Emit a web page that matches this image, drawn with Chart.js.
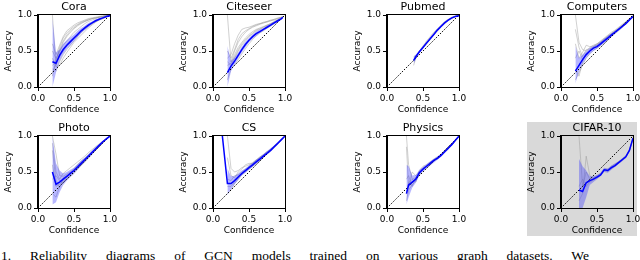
<!DOCTYPE html>
<html>
<head>
<meta charset="utf-8">
<script src="https://cdn.jsdelivr.net/npm/chart.js@4/dist/chart.umd.min.js"></script>
<style>
  body { margin: 0; width: 640px; height: 260px; overflow: hidden; background: #fff; position: relative; }
  canvas { position: absolute; }
  #cifarBg { position: absolute; left: 527px; top: 122px; width: 110px; height: 114px; background: #d9d9d9; }
  #caption {
    position: absolute; left: 1px; top: 249px; width: 588px;
    font-family: "Liberation Serif", serif; font-size: 13.5px; line-height: 14px;
    text-align: justify; text-align-last: justify; color: #000;
  }
</style>
</head>
<body>
<div id="cifarBg"></div>
<canvas id="cora" width="120" height="117" style="left:0px;top:0px"></canvas>
<canvas id="citeseer" width="120" height="117" style="left:175px;top:0px"></canvas>
<canvas id="pubmed" width="120" height="117" style="left:349px;top:0px"></canvas>
<canvas id="computers" width="120" height="117" style="left:523px;top:0px"></canvas>
<canvas id="photo" width="120" height="117" style="left:0px;top:121px"></canvas>
<canvas id="cs" width="120" height="117" style="left:175px;top:121px"></canvas>
<canvas id="physics" width="120" height="117" style="left:349px;top:121px"></canvas>
<canvas id="cifar" width="120" height="117" style="left:523px;top:121px"></canvas>
<div id="caption">1. Reliability diagrams of GCN models trained on various graph datasets. We</div>

<script>
// --- data (confidence bins, mean accuracy, +-std band, individual runs) ---
const coraX = [0.2, 0.25, 0.3, 0.35, 0.4, 0.45, 0.5, 0.55, 0.6, 0.65, 0.7, 0.75, 0.8, 0.85, 0.9, 0.95, 1.0];
const coraMean = [0.35, 0.33, 0.44, 0.52, 0.58, 0.63, 0.68, 0.73, 0.78, 0.82, 0.86, 0.89, 0.92, 0.94, 0.96, 0.98, 0.99];
const coraLo = [0.0, 0.20, 0.36, 0.46, 0.53, 0.58, 0.64, 0.69, 0.75, 0.79, 0.83, 0.87, 0.90, 0.93, 0.95, 0.97, 0.99];
const coraHi = [0.95, 0.48, 0.52, 0.60, 0.65, 0.69, 0.73, 0.78, 0.82, 0.85, 0.89, 0.91, 0.94, 0.96, 0.97, 0.99, 1.0];
const coraRuns = [
  [1.0, 0.30, 0.48, 0.62, 0.70, 0.76, 0.81, 0.85, 0.88, 0.91, 0.93, 0.95, 0.96, 0.97, 0.98, 0.99, 1.0],
  [0.30, 0.35, 0.55, 0.68, 0.75, 0.80, 0.84, 0.87, 0.90, 0.92, 0.94, 0.95, 0.96, 0.97, 0.98, 0.99, 1.0],
  [0.25, 0.22, 0.35, 0.45, 0.52, 0.58, 0.64, 0.70, 0.75, 0.80, 0.84, 0.88, 0.91, 0.94, 0.96, 0.98, 0.99],
  [0.40, 0.28, 0.30, 0.40, 0.48, 0.55, 0.62, 0.67, 0.72, 0.77, 0.82, 0.86, 0.90, 0.93, 0.95, 0.97, 0.99],
  [0.50, 0.40, 0.50, 0.58, 0.64, 0.70, 0.76, 0.80, 0.84, 0.88, 0.91, 0.93, 0.95, 0.97, 0.98, 0.99, 1.0],
  [0.20, 0.32, 0.42, 0.50, 0.57, 0.62, 0.67, 0.72, 0.77, 0.81, 0.85, 0.88, 0.91, 0.93, 0.95, 0.97, 0.99],
  [0.60, 0.45, 0.58, 0.70, 0.78, 0.82, 0.86, 0.89, 0.91, 0.93, 0.95, 0.96, 0.97, 0.98, 0.99, 0.99, 1.0],
  [0.15, 0.38, 0.52, 0.64, 0.72, 0.78, 0.82, 0.86, 0.89, 0.91, 0.93, 0.95, 0.96, 0.97, 0.98, 0.99, 1.0]
];

const citeseerX = [0.2, 0.25, 0.3, 0.35, 0.4, 0.45, 0.5, 0.55, 0.6, 0.65, 0.7, 0.75, 0.8, 0.85, 0.9, 0.95, 0.97];
const citeseerMean = [0.20, 0.29, 0.36, 0.44, 0.52, 0.59, 0.65, 0.70, 0.74, 0.77, 0.80, 0.83, 0.86, 0.89, 0.92, 0.95, 0.97];
const citeseerLo = [0.0, 0.22, 0.31, 0.40, 0.48, 0.55, 0.62, 0.67, 0.71, 0.75, 0.78, 0.81, 0.84, 0.87, 0.90, 0.94, 0.96];
const citeseerHi = [0.57, 0.36, 0.41, 0.48, 0.56, 0.63, 0.68, 0.73, 0.77, 0.80, 0.82, 0.85, 0.88, 0.91, 0.94, 0.96, 0.98];
const citeseerRuns = [
  [1.0, 0.35, 0.50, 0.62, 0.70, 0.76, 0.80, 0.83, 0.85, 0.87, 0.89, 0.91, 0.92, 0.94, 0.95, 0.97, 0.98],
  [0.40, 0.45, 0.60, 0.72, 0.80, 0.82, 0.83, 0.85, 0.87, 0.88, 0.90, 0.91, 0.93, 0.94, 0.96, 0.97, 0.98],
  [0.10, 0.25, 0.30, 0.38, 0.46, 0.53, 0.60, 0.66, 0.71, 0.75, 0.78, 0.82, 0.85, 0.88, 0.91, 0.94, 0.96],
  [0.30, 0.33, 0.45, 0.55, 0.62, 0.68, 0.73, 0.77, 0.80, 0.82, 0.84, 0.86, 0.88, 0.90, 0.93, 0.95, 0.97],
  [0.20, 0.28, 0.40, 0.50, 0.58, 0.64, 0.70, 0.74, 0.78, 0.80, 0.83, 0.85, 0.87, 0.90, 0.92, 0.95, 0.97],
  [0.50, 0.40, 0.52, 0.66, 0.74, 0.78, 0.81, 0.84, 0.86, 0.88, 0.89, 0.90, 0.92, 0.93, 0.95, 0.96, 0.98],
  [0.35, 0.30, 0.42, 0.52, 0.60, 0.66, 0.71, 0.75, 0.79, 0.81, 0.83, 0.86, 0.88, 0.91, 0.93, 0.96, 0.98]
];

const pubmedX = [0.37, 0.4, 0.45, 0.5, 0.55, 0.6, 0.65, 0.7, 0.75, 0.8, 0.85, 0.9, 0.95, 1.0];
const pubmedMean = [0.37, 0.42, 0.49, 0.55, 0.61, 0.67, 0.73, 0.79, 0.84, 0.89, 0.93, 0.96, 0.98, 0.99];
const pubmedLo = [0.32, 0.39, 0.47, 0.54, 0.60, 0.66, 0.72, 0.78, 0.83, 0.88, 0.92, 0.95, 0.98, 0.99];
const pubmedHi = [0.42, 0.45, 0.51, 0.57, 0.63, 0.69, 0.75, 0.81, 0.86, 0.90, 0.94, 0.97, 0.99, 1.0];
const pubmedRuns = [
  [0.30, 0.40, 0.50, 0.57, 0.64, 0.70, 0.76, 0.81, 0.86, 0.91, 0.94, 0.97, 0.99, 1.0],
  [0.42, 0.44, 0.48, 0.54, 0.60, 0.66, 0.72, 0.78, 0.83, 0.88, 0.92, 0.95, 0.98, 0.99],
  [0.35, 0.41, 0.50, 0.56, 0.62, 0.68, 0.74, 0.80, 0.85, 0.89, 0.93, 0.96, 0.98, 0.99]
];

const computersX = [0.2, 0.25, 0.3, 0.35, 0.4, 0.45, 0.5, 0.55, 0.6, 0.65, 0.7, 0.75, 0.8, 0.85, 0.9, 0.95, 1.0];
const computersMean = [0.22, 0.30, 0.38, 0.45, 0.50, 0.54, 0.56, 0.60, 0.64, 0.68, 0.72, 0.76, 0.80, 0.84, 0.88, 0.93, 0.98];
const computersLo = [0.05, 0.22, 0.32, 0.40, 0.46, 0.50, 0.53, 0.57, 0.61, 0.65, 0.70, 0.74, 0.78, 0.82, 0.87, 0.92, 0.97];
const computersHi = [0.57, 0.40, 0.45, 0.50, 0.54, 0.57, 0.59, 0.63, 0.67, 0.71, 0.75, 0.78, 0.82, 0.86, 0.90, 0.95, 0.99];
const computersRuns = [
  [1.0, 0.62, 0.52, 0.50, 0.55, 0.58, 0.60, 0.63, 0.67, 0.71, 0.74, 0.78, 0.82, 0.86, 0.90, 0.94, 0.98],
  [0.60, 0.40, 0.48, 0.58, 0.56, 0.57, 0.60, 0.64, 0.68, 0.72, 0.76, 0.79, 0.83, 0.87, 0.91, 0.95, 0.99],
  [0.10, 0.20, 0.30, 0.40, 0.46, 0.51, 0.54, 0.58, 0.62, 0.66, 0.70, 0.74, 0.78, 0.83, 0.87, 0.92, 0.97],
  [0.40, 0.50, 0.38, 0.44, 0.50, 0.54, 0.57, 0.61, 0.65, 0.69, 0.73, 0.77, 0.81, 0.85, 0.89, 0.93, 0.98],
  [0.25, 0.15, 0.35, 0.47, 0.52, 0.55, 0.58, 0.62, 0.66, 0.70, 0.74, 0.77, 0.81, 0.85, 0.89, 0.94, 0.98],
  [0.80, 0.55, 0.42, 0.52, 0.53, 0.56, 0.59, 0.62, 0.66, 0.70, 0.73, 0.77, 0.80, 0.84, 0.88, 0.93, 0.98]
];

const photoX = [0.2, 0.25, 0.3, 0.35, 0.4, 0.45, 0.5, 0.55, 0.6, 0.65, 0.7, 0.75, 0.8, 0.85, 0.9, 0.95, 1.0];
const photoMean = [0.50, 0.33, 0.36, 0.40, 0.44, 0.48, 0.52, 0.57, 0.62, 0.67, 0.72, 0.77, 0.82, 0.87, 0.92, 0.96, 1.0];
const photoLo = [0.05, 0.08, 0.22, 0.32, 0.38, 0.43, 0.48, 0.53, 0.59, 0.64, 0.69, 0.74, 0.80, 0.85, 0.90, 0.95, 0.99];
const photoHi = [1.0, 0.62, 0.52, 0.48, 0.50, 0.53, 0.56, 0.61, 0.66, 0.70, 0.75, 0.80, 0.85, 0.89, 0.93, 0.97, 1.0];
const photoRuns = [
  [1.0, 0.75, 0.45, 0.44, 0.47, 0.50, 0.55, 0.60, 0.65, 0.69, 0.74, 0.78, 0.83, 0.88, 0.92, 0.96, 1.0],
  [0.90, 0.50, 0.40, 0.48, 0.52, 0.56, 0.60, 0.64, 0.68, 0.72, 0.77, 0.81, 0.85, 0.89, 0.93, 0.97, 1.0],
  [0.20, 0.15, 0.30, 0.36, 0.40, 0.44, 0.48, 0.54, 0.59, 0.64, 0.69, 0.75, 0.80, 0.86, 0.91, 0.96, 1.0],
  [0.60, 0.30, 0.33, 0.38, 0.43, 0.47, 0.51, 0.56, 0.61, 0.66, 0.71, 0.76, 0.81, 0.86, 0.91, 0.96, 1.0],
  [0.40, 0.45, 0.38, 0.35, 0.42, 0.47, 0.53, 0.58, 0.63, 0.68, 0.73, 0.78, 0.83, 0.87, 0.92, 0.96, 1.0],
  [0.80, 0.38, 0.28, 0.42, 0.45, 0.49, 0.54, 0.59, 0.64, 0.68, 0.73, 0.78, 0.82, 0.87, 0.91, 0.96, 0.99]
];

const csX = [0.13, 0.2, 0.25, 0.3, 0.35, 0.4, 0.45, 0.5, 0.55, 0.6, 0.65, 0.7, 0.75, 0.8, 0.85, 0.9, 0.95, 1.0];
const csMean = [1.0, 0.34, 0.34, 0.38, 0.43, 0.48, 0.52, 0.56, 0.60, 0.64, 0.68, 0.72, 0.76, 0.80, 0.85, 0.90, 0.95, 1.0];
const csLo = [null, 0.18, 0.26, 0.33, 0.39, 0.45, 0.49, 0.53, 0.57, 0.61, 0.65, 0.70, 0.74, 0.78, 0.83, 0.88, 0.94, 0.99];
const csHi = [null, 0.55, 0.44, 0.44, 0.48, 0.52, 0.55, 0.59, 0.63, 0.67, 0.71, 0.75, 0.79, 0.83, 0.87, 0.92, 0.96, 1.0];
const csRuns = [
  [null, 1.0, 0.55, 0.50, 0.52, 0.56, 0.58, 0.60, 0.63, 0.67, 0.71, 0.74, 0.78, 0.82, 0.86, 0.90, 0.95, 1.0],
  [null, 0.70, 0.45, 0.42, 0.50, 0.54, 0.60, 0.62, 0.62, 0.66, 0.70, 0.74, 0.78, 0.81, 0.86, 0.90, 0.95, 1.0],
  [null, 0.20, 0.25, 0.34, 0.40, 0.46, 0.50, 0.54, 0.58, 0.62, 0.66, 0.70, 0.75, 0.79, 0.84, 0.89, 0.94, 0.99],
  [null, 0.40, 0.38, 0.45, 0.46, 0.50, 0.54, 0.58, 0.62, 0.66, 0.70, 0.73, 0.77, 0.81, 0.86, 0.90, 0.95, 1.0],
  [null, 0.30, 0.30, 0.36, 0.42, 0.47, 0.51, 0.55, 0.59, 0.63, 0.67, 0.71, 0.75, 0.80, 0.84, 0.89, 0.95, 1.0]
];

const physicsX = [0.27, 0.3, 0.35, 0.4, 0.45, 0.5, 0.55, 0.6, 0.65, 0.7, 0.75, 0.8, 0.85, 0.9, 0.95, 1.0];
const physicsMean = [0.20, 0.32, 0.36, 0.40, 0.49, 0.54, 0.58, 0.62, 0.66, 0.69, 0.73, 0.78, 0.83, 0.88, 0.94, 1.0];
const physicsLo = [0.05, 0.15, 0.28, 0.35, 0.45, 0.51, 0.55, 0.59, 0.63, 0.67, 0.71, 0.76, 0.81, 0.87, 0.93, 0.99];
const physicsHi = [0.60, 0.58, 0.45, 0.46, 0.53, 0.57, 0.61, 0.65, 0.68, 0.72, 0.75, 0.80, 0.85, 0.90, 0.95, 1.0];
const physicsRuns = [
  [1.0, 0.60, 0.40, 0.42, 0.52, 0.58, 0.60, 0.64, 0.68, 0.71, 0.74, 0.79, 0.84, 0.89, 0.94, 1.0],
  [0.85, 0.30, 0.50, 0.45, 0.50, 0.55, 0.59, 0.63, 0.67, 0.70, 0.73, 0.78, 0.83, 0.88, 0.94, 1.0],
  [0.10, 0.25, 0.32, 0.38, 0.47, 0.52, 0.57, 0.61, 0.65, 0.68, 0.72, 0.77, 0.82, 0.88, 0.93, 0.99],
  [0.40, 0.45, 0.30, 0.42, 0.48, 0.54, 0.59, 0.62, 0.66, 0.70, 0.74, 0.79, 0.84, 0.89, 0.94, 1.0],
  [0.20, 0.35, 0.40, 0.36, 0.50, 0.56, 0.58, 0.62, 0.67, 0.70, 0.73, 0.78, 0.83, 0.88, 0.94, 1.0]
];

const cifarX = [0.25, 0.3, 0.35, 0.4, 0.45, 0.5, 0.55, 0.6, 0.65, 0.7, 0.75, 0.8, 0.85, 0.9, 0.95, 1.0];
const cifarMean = [0.25, 0.23, 0.35, 0.38, 0.40, 0.43, 0.46, 0.53, 0.52, 0.56, 0.59, 0.63, 0.67, 0.71, 0.80, 0.97];
const cifarLo = [0.0, 0.0, 0.15, 0.32, 0.36, 0.40, 0.44, 0.50, 0.49, 0.53, 0.57, 0.61, 0.65, 0.69, 0.78, 0.96];
const cifarHi = [0.68, 0.58, 0.52, 0.44, 0.44, 0.46, 0.49, 0.56, 0.55, 0.59, 0.62, 0.65, 0.69, 0.73, 0.82, 0.98];
const cifarRuns = [
  [1.0, 0.30, 0.50, 0.40, 0.42, 0.45, 0.48, 0.54, 0.53, 0.57, 0.60, 0.64, 0.68, 0.72, 0.81, 0.97],
  [0.10, 0.20, 0.72, 0.45, 0.41, 0.44, 0.47, 0.52, 0.51, 0.55, 0.58, 0.62, 0.66, 0.70, 0.79, 0.96],
  [0.30, 0.40, 0.30, 0.36, 0.39, 0.42, 0.45, 0.53, 0.54, 0.58, 0.61, 0.64, 0.68, 0.72, 0.80, 0.97]
];

const axisTicks = [0, 0.5, 1.0];

Chart.defaults.font.family = "'DejaVu Sans', sans-serif";
Chart.defaults.color = "#000";

// matplotlib-style box around the axes
const frame = {
  id: "frame",
  afterDatasetsDraw(chart) {
    const { ctx, chartArea: a } = chart;
    ctx.save();
    ctx.strokeStyle = "#000";
    ctx.lineWidth = 1;
    ctx.strokeRect(Math.round(a.left) - 0.5, Math.round(a.top) - 0.5,
      Math.round(a.right - a.left) + 1, Math.round(a.bottom - a.top) + 1);
    ctx.restore();
  },
};

const pts = (xs, ys) => xs.map((x, i) => ({ x: x, y: ys[i] }));

function makeChart(id, title, xs, mean, lo, hi, runs) {
  const datasets = [
    { data: pts(xs, mean), borderColor: "#0000ff", borderWidth: 1.5 },
    { data: [{ x: 0, y: 0 }, { x: 1, y: 1 }], borderColor: "#000", borderWidth: 1, borderDash: [1.5, 1.5] },
    { data: pts(xs, lo), borderColor: "rgba(0,0,0,0)", borderWidth: 0 },
    { data: pts(xs, hi), borderColor: "rgba(0,0,0,0)", borderWidth: 0, fill: "-1", backgroundColor: "rgba(50,50,255,0.35)" },
  ];
  runs.forEach((r) => {
    datasets.push({ data: pts(xs, r), borderColor: "rgba(150,150,150,0.45)", borderWidth: 1 });
  });

  const axis = (label) => ({
    type: "linear",
    min: 0,
    max: 1,
    afterBuildTicks: (s) => { s.ticks = axisTicks.map((v) => ({ value: v })); },
    ticks: { font: { size: 9 }, padding: 2, maxRotation: 0, autoSkip: false, callback: (v) => v.toFixed(1) },
    grid: { drawOnChartArea: false, drawTicks: true, tickLength: 4, color: "#000" },
    border: { display: true, color: "#000", width: 1 },
    title: { display: true, text: label, font: { size: 9, lineHeight: 1.2 }, padding: { top: 3, bottom: 2 } },
  });

  const xAxis = axis("Confidence");
  xAxis.afterFit = (s) => { s.height = 30; };
  const yAxis = axis("Accuracy");
  yAxis.afterFit = (s) => { s.width = 38; };

  return new Chart(document.getElementById(id), {
    type: "line",
    data: { datasets },
    options: {
      responsive: false,
      animation: false,
      parsing: false,
      layout: { padding: { left: 0, right: 10, top: 0, bottom: 0 } },
      elements: { point: { radius: 0 }, line: { tension: 0, fill: false } },
      plugins: {
        legend: { display: false },
        tooltip: { enabled: false },
        title: {
          display: true, text: title, fullSize: false,
          font: { size: 11, weight: "normal", lineHeight: "13px" }, padding: { top: 1, bottom: 1 },
        },
      },
      scales: { x: xAxis, y: yAxis },
    },
    plugins: [frame],
  });
}

makeChart("cora", "Cora", coraX, coraMean, coraLo, coraHi, coraRuns);
makeChart("citeseer", "Citeseer", citeseerX, citeseerMean, citeseerLo, citeseerHi, citeseerRuns);
makeChart("pubmed", "Pubmed", pubmedX, pubmedMean, pubmedLo, pubmedHi, pubmedRuns);
makeChart("computers", "Computers", computersX, computersMean, computersLo, computersHi, computersRuns);
makeChart("photo", "Photo", photoX, photoMean, photoLo, photoHi, photoRuns);
makeChart("cs", "CS", csX, csMean, csLo, csHi, csRuns);
makeChart("physics", "Physics", physicsX, physicsMean, physicsLo, physicsHi, physicsRuns);
makeChart("cifar", "CIFAR-10", cifarX, cifarMean, cifarLo, cifarHi, cifarRuns);
</script>
</body>
</html>
